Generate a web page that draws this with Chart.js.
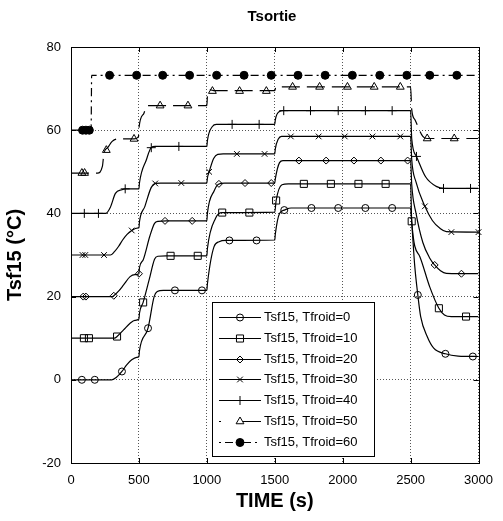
<!DOCTYPE html>
<html>
<head>
<meta charset="utf-8">
<script src="https://cdn.jsdelivr.net/npm/chart.js@4.4.1/dist/chart.umd.min.js"></script>
<style>
  html, body { margin: 0; padding: 0; background: #fff; }
  canvas { display: block; }
</style>
</head>
<body>
<canvas id="chart" width="503" height="521"></canvas>
<script>
// tick labels
const timeTicks = [0, 500, 1000, 1500, 2000, 2500, 3000];
const tempTicks = [-20, 0, 20, 40, 60, 80];

const seriesLabels = [
  "Tsf15, Tfroid=0", "Tsf15, Tfroid=10", "Tsf15, Tfroid=20", "Tsf15, Tfroid=30",
  "Tsf15, Tfroid=40", "Tsf15, Tfroid=50", "Tsf15, Tfroid=60",
];

// [time (s), Tsf15 (°C)]
const curve0 = [[0,0],[300,0],[335,0.6],[375,2.0],[410,3.6],[447,4.8],[483,5.4],[500,5.6],[504,7.0],[567,12.4],[612,20.0],[635,21.2],[680,21.5],[1000,21.5],[1004,23],[1053,32],[1090,33.2],[1140,33.5],[1500,33.6],[1504,35],[1535,40],[1570,40.8],[1620,41.3],[2500,41.3],[2510,37],[2530,27.5],[2553,20.4],[2574,15.2],[2622,10.4],[2670,7.6],[2756,6.25],[2850,5.7],[3000,5.6]];
const marks0 = [[80,0],[175,0],[375,2.0],[567,12.4],[765,21.5],[964,21.5],[1166,33.5],[1366,33.5],[1570,40.8],[1770,41.3],[1967,41.3],[2167,41.3],[2364,41.3],[2553,20.4],[2756,6.25],[2958,5.6]];

const curve10 = [[0,10],[320,10],[339,10.4],[387,12],[435,13.6],[470,14.3],[500,14.6],[504,16],[531,18.6],[575,24],[615,29.0],[640,29.7],[700,29.8],[1000,29.8],[1004,31.5],[1065,38.9],[1110,40.2],[1160,40.2],[1500,40.3],[1510,43.1],[1553,46.9],[1600,47.1],[2500,47.1],[2508,38.1],[2568,29.6],[2640,22.4],[2708,17.2],[2749,15.6],[2800,15.2],[3000,15.2]];
const marks10 = [[95,10],[132,10],[339,10.4],[531,18.6],[733,29.8],[933,29.8],[1113,40.2],[1313,40.2],[1510,43.1],[1714,47.1],[1913,47.1],[2116,47.1],[2316,47.1],[2508,38.1],[2708,17.2],[2908,15.2]];

const curve20 = [[0,20],[305,20],[315,20.2],[350,21.3],[387,22.8],[435,24.8],[470,25.3],[500,25.5],[504,27],[531,28.8],[580,34.5],[615,37.6],[640,38.1],[700,38.2],[1000,38.2],[1004,40],[1055,45.5],[1085,47.0],[1130,47.3],[1500,47.3],[1504,48.3],[1535,52.2],[1560,52.7],[2500,52.7],[2508,47],[2540,40],[2590,33],[2640,29.3],[2677,27.6],[2720,26.2],[2763,25.6],[3000,25.5]];
const marks20 = [[90,20],[110,20],[315,20.2],[500,25.5],[692,38.2],[892,38.2],[1089,47.1],[1281,47.3],[1474,47.3],[1678,52.7],[1878,52.7],[2083,52.7],[2281,52.7],[2478,52.7],[2677,27.6],[2874,25.5]];

const curve30 = [[0,30],[290,30],[320,30.8],[351,32.1],[380,33.6],[411,34.9],[447,35.9],[495,36.5],[500,36.5],[504,38],[544,41.7],[590,46.2],[620,47.2],[660,47.3],[1000,47.3],[1004,48.5],[1017,50],[1050,53.2],[1080,54.2],[1120,54.3],[1500,54.3],[1504,55.5],[1525,57.8],[1550,58.5],[2500,58.5],[2508,53],[2540,47.5],[2605,41.7],[2660,38.3],[2720,36.3],[2763,35.6],[3000,35.5]];
const marks30 = [[85,30],[105,30],[243,30],[447,35.9],[620,47.2],[812,47.3],[1017,50],[1221,54.3],[1425,54.3],[1618,58.5],[1823,58.5],[2015,58.5],[2219,58.5],[2424,58.5],[2605,41.7],[2800,35.5],[3000,35.5]];

const curve40 = [[0,40],[255,40],[290,41.5],[327,44.8],[375,45.7],[400,45.9],[500,45.9],[504,47.3],[555,52.9],[590,55.8],[620,56.1],[1000,56.1],[1004,57.5],[1041,60.9],[1070,61.4],[1500,61.4],[1504,62.5],[1535,64.5],[1560,64.7],[2500,64.7],[2508,58],[2543,53.7],[2610,48.8],[2688,46.5],[2750,46],[3000,46]];
const marks40 = [[98,40],[202,40],[399,45.9],[591,55.8],[794,56.1],[1186,61.4],[1385,61.4],[1566,64.7],[1763,64.7],[1967,64.7],[2167,64.7],[2364,64.7],[2543,53.7],[2742,46],[2941,46]];

const curve50 = [[0,49.7],[195,49.7],[231,51.3],[243,54.5],[270,55.8],[303,57.3],[340,57.9],[464,57.9],[497,58.5],[501,60.7],[537,64.1],[560,65.9],[1000,65.9],[1004,68],[1029,69.7],[1050,69.5],[1500,69.5],[1508,70.4],[2500,70.4],[2508,65],[2532,62.5],[2590,58.5],[2620,58],[3000,58]];
const marks50 = [[80,49.7],[100,49.7],[260,55.2],[464,57.9],[656,65.9],[861,65.9],[1041,69.4],[1241,69.4],[1438,69.4],[1631,70.4],[1830,70.4],[2035,70.4],[2232,70.4],[2424,70.4],[2622,58],[2821,58]];

const curve60 = [[0,60],[148,60],[152,73.2],[3000,73.2]];
const marks60 = [[85,60],[110,60],[135,60],[284,73.2],[483,73.2],[675,73.2],[873,73.2],[1072,73.2],[1274,73.2],[1474,73.2],[1671,73.2],[1871,73.2],[2071,73.2],[2273,73.2],[2472,73.2],[2641,73.2],[2840,73.2]];

const curves = [curve0, curve10, curve20, curve30, curve40, curve50, curve60];
const markSets = [marks0, marks10, marks20, marks30, marks40, marks50, marks60];

// styles
const markerStyles = [
  { shape: "circle", r: 3.5, filled: false },
  { shape: "rect", r: 5, filled: false },
  { shape: "rectRot", r: 3.5, filled: false },
  { shape: "crossRot", r: 4, filled: false },
  { shape: "cross", r: 4.5, filled: false },
  { shape: "triangle", r: 4.5, filled: false },
  { shape: "circle", r: 4, filled: true },
];
const lineDashes = [[], [], [], [], [], [18, 7], [8, 4, 2, 4]];
const legendDashes = [[], [], [], [], [], [2, 22, 20], [8, 4, 2, 4]];
const legendDashOffsets = [0, 0, 0, 0, 0, 0, 12];

const toXY = (arr) => arr.map(([x, y]) => ({ x, y }));

const datasets = [];
curves.forEach((c, i) => {
  datasets.push({
    label: seriesLabels[i],
    data: toXY(c),
    borderColor: "#000",
    borderWidth: 1.2,
    borderDash: lineDashes[i],
    pointRadius: 0,
    cubicInterpolationMode: "monotone",
    fill: false,
  });
});
markSets.forEach((m, i) => {
  const st = markerStyles[i];
  datasets.push({
    label: seriesLabels[i] + " marks",
    data: toXY(m),
    showLine: false,
    pointStyle: st.shape,
    pointRadius: st.r,
    pointBorderColor: "#000",
    pointBorderWidth: 1,
    pointBackgroundColor: st.filled ? "#000" : "rgba(0,0,0,0)",
    clip: 8,
  });
});

function drawMarker(ctx, st, x, y) {
  const r = st.r;
  ctx.beginPath();
  if (st.shape === "circle") {
    ctx.arc(x, y, r, 0, Math.PI * 2);
  } else if (st.shape === "rect") {
    const s = r * Math.SQRT1_2;
    ctx.rect(x - s, y - s, 2 * s, 2 * s);
  } else if (st.shape === "rectRot") {
    ctx.moveTo(x - r, y); ctx.lineTo(x, y + r); ctx.lineTo(x + r, y); ctx.lineTo(x, y - r); ctx.closePath();
  } else if (st.shape === "crossRot") {
    const s = r * Math.SQRT1_2;
    ctx.moveTo(x - s, y - s); ctx.lineTo(x + s, y + s);
    ctx.moveTo(x - s, y + s); ctx.lineTo(x + s, y - s);
  } else if (st.shape === "cross") {
    ctx.moveTo(x, y - r); ctx.lineTo(x, y + r);
    ctx.moveTo(x - r, y); ctx.lineTo(x + r, y);
  } else if (st.shape === "triangle") {
    ctx.moveTo(x, y - r);
    ctx.lineTo(x + r * Math.sin(Math.PI * 2 / 3), y - r * Math.cos(Math.PI * 2 / 3));
    ctx.lineTo(x + r * Math.sin(Math.PI * 4 / 3), y - r * Math.cos(Math.PI * 4 / 3));
    ctx.closePath();
  }
  if (st.filled) { ctx.fillStyle = "#000"; ctx.fill(); }
  ctx.stroke();
}

const framePlugin = {
  id: "frame",
  afterDraw(chart) {
    const { ctx, chartArea: a, scales } = chart;
    ctx.save();
    ctx.strokeStyle = "#000";
    ctx.lineWidth = 1;
    ctx.setLineDash([]);

    // inner tick marks on all four sides
    ctx.beginPath();
    timeTicks.slice(1, -1).forEach((t) => {
      const px = Math.round(scales.x.getPixelForValue(t)) + 0.5;
      ctx.moveTo(px, a.bottom); ctx.lineTo(px, a.bottom - 5);
      ctx.moveTo(px, a.top); ctx.lineTo(px, a.top + 5);
    });
    tempTicks.slice(1, -1).forEach((v) => {
      const py = Math.round(scales.y.getPixelForValue(v)) + 0.5;
      ctx.moveTo(a.left, py); ctx.lineTo(a.left + 5, py);
      ctx.moveTo(a.right, py); ctx.lineTo(a.right - 5, py);
    });
    ctx.stroke();
    ctx.strokeRect(Math.round(a.left) + 0.5, Math.round(a.top) + 0.5,
      Math.round(a.right - a.left), Math.round(a.bottom - a.top));

    // chart title
    ctx.fillStyle = "#000";
    ctx.font = "bold 15px 'Liberation Sans', Arial, sans-serif";
    ctx.textAlign = "center";
    ctx.textBaseline = "middle";
    ctx.fillText("Tsortie", 272, 17);

    // legend box
    const box = { x: 212, y: 302, w: 162, h: 154 };
    ctx.fillStyle = "#fff";
    ctx.fillRect(box.x, box.y, box.w, box.h);
    ctx.strokeRect(box.x + 0.5, box.y + 0.5, box.w, box.h);
    ctx.font = "13px 'Liberation Sans', Arial, sans-serif";
    ctx.textAlign = "left";
    seriesLabels.forEach((label, i) => {
      const y = Math.round(317 + i * 20.8) + 0.5;
      ctx.lineWidth = 1.2;
      ctx.setLineDash(legendDashes[i]);
      ctx.lineDashOffset = legendDashOffsets[i];
      ctx.beginPath();
      ctx.moveTo(219, y); ctx.lineTo(261, y);
      ctx.stroke();
      ctx.setLineDash([]);
      ctx.lineWidth = 1;
      drawMarker(ctx, markerStyles[i], 240, y);
      ctx.fillStyle = "#000";
      ctx.fillText(label, 264, y);
    });
    ctx.restore();
  },
};

const gridStyle = { color: "#555", lineWidth: 1, drawTicks: false };
const tickFont = { family: "'Liberation Sans', Arial, sans-serif", size: 13 };

new Chart(document.getElementById("chart"), {
  type: "line",
  data: { datasets },
  options: {
    responsive: false,
    animation: false,
    layout: { padding: { top: 47, right: 16, left: 0, bottom: 0 } },
    plugins: { legend: { display: false }, title: { display: false }, tooltip: { enabled: false } },
    scales: {
      x: {
        type: "linear",
        min: 0,
        max: 3000,
        afterBuildTicks(s) { s.ticks = timeTicks.map((v) => ({ value: v })); },
        afterFit(s) { s.height = 58; },
        ticks: { color: "#000", font: tickFont, padding: 10, maxRotation: 0, callback: (v) => String(v) },
        grid: gridStyle,
        border: { display: false, dash: [1, 2] },
        title: {
          display: true,
          text: "TIME (s)",
          color: "#000",
          font: { family: "'Liberation Sans', Arial, sans-serif", size: 20, weight: "bold" },
          padding: { top: 0, bottom: 8 },
        },
      },
      y: {
        type: "linear",
        min: -20,
        max: 80,
        afterBuildTicks(s) { s.ticks = tempTicks.map((v) => ({ value: v })); },
        afterFit(s) { s.width = 71; },
        ticks: { color: "#000", font: tickFont, padding: 10, callback: (v) => String(v) },
        grid: gridStyle,
        border: { display: false, dash: [1, 2] },
        title: {
          display: true,
          text: "Tsf15 (°C)",
          color: "#000",
          font: { family: "'Liberation Sans', Arial, sans-serif", size: 20, weight: "bold" },
          padding: { top: 3, bottom: 0 },
        },
      },
    },
  },
  plugins: [framePlugin],
});
</script>
</body>
</html>
